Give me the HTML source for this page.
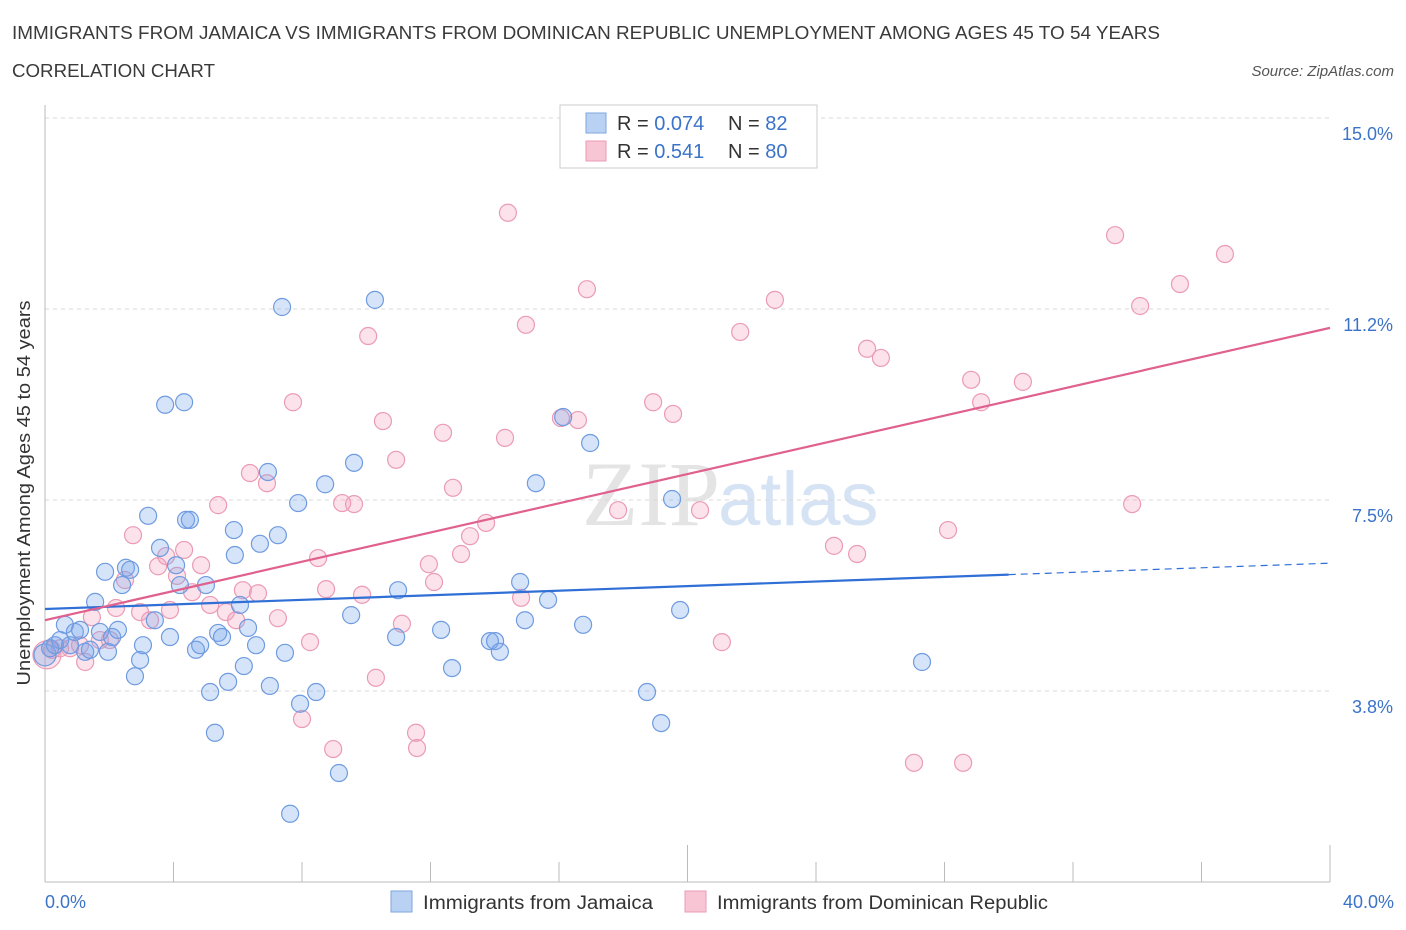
<!DOCTYPE html>
<html><head><meta charset="utf-8">
<style>
body{margin:0;background:#fff;font-family:"Liberation Sans",sans-serif;}
svg{display:block}
</style></head>
<body>
<svg id="chart" width="1406" height="930">
<text x="12" y="39" font-size="18" fill="#3a3a3a" textLength="1148" lengthAdjust="spacingAndGlyphs">IMMIGRANTS FROM JAMAICA VS IMMIGRANTS FROM DOMINICAN REPUBLIC UNEMPLOYMENT AMONG AGES 45 TO 54 YEARS</text>
<text x="12" y="77" font-size="18" fill="#3a3a3a" textLength="203" lengthAdjust="spacingAndGlyphs">CORRELATION CHART</text>
<text x="1394" y="76" font-size="15" font-style="italic" fill="#555" text-anchor="end">Source: ZipAtlas.com</text>
<text x="720" y="525" font-size="92" font-family="Liberation Serif,serif" fill="#e4e4e4" text-anchor="end">ZIP</text>
<text x="718" y="525" font-size="76" fill="#d6e3f4">atlas</text>
<g id="grid"></g>
<g id="axes"></g>
<g id="points"></g>
<g id="trends"></g>
<text x="30" y="493" font-size="18" fill="#333" text-anchor="middle" textLength="385" lengthAdjust="spacingAndGlyphs" transform="rotate(-90 30 493)">Unemployment Among Ages 45 to 54 years</text>
<text x="45" y="908" font-size="18" fill="#3b73c8">0.0%</text>
<text x="1394" y="908" font-size="18" fill="#3b73c8" text-anchor="end">40.0%</text>
<g>
<rect x="560" y="105" width="257" height="63" fill="#fff" stroke="#ccc"/>
<rect x="586" y="113" width="20" height="20" fill="#b9d1f3" stroke="#7ea6e0"/>
<rect x="586" y="141" width="20" height="20" fill="#f8c5d5" stroke="#eb9bb5"/>
<text x="617" y="130" font-size="20" fill="#333">R = <tspan fill="#3b73c8">0.074</tspan></text>
<text x="728" y="130" font-size="20" fill="#333">N = <tspan fill="#3b73c8"> 82</tspan></text>
<text x="617" y="158" font-size="20" fill="#333">R = <tspan fill="#3b73c8"> 0.541</tspan></text>
<text x="728" y="158" font-size="20" fill="#333">N = <tspan fill="#3b73c8">80</tspan></text>
</g>
<g>
<rect x="391" y="891" width="21" height="21" fill="#b9d1f3" stroke="#7ea6e0"/>
<text x="423" y="909" font-size="19" fill="#333" textLength="230" lengthAdjust="spacingAndGlyphs">Immigrants from Jamaica</text>
<rect x="685" y="891" width="21" height="21" fill="#f8c5d5" stroke="#eb9bb5"/>
<text x="717" y="909" font-size="19" fill="#333" textLength="331" lengthAdjust="spacingAndGlyphs">Immigrants from Dominican Republic</text>
</g>
</svg>
<script>
const yTicks=[3.75,7.5,11.25,15];
const yTickLabels=["3.8%","7.5%","11.2%","15.0%"];
const xTicks=[0,4,8,12,16,20,24,28,32,36,40];
const jamX=[0,0.16,0.31,0.47,0.62,0.78,0.93,1.09,1.25,1.40,1.56,1.71,1.87,1.96,2.09,2.27,2.40,2.52,2.65,2.80,2.96,3.05,3.21,3.42,3.58,3.74,3.89,4.08,4.20,4.33,4.39,4.51,4.70,4.83,5.01,5.14,5.29,5.39,5.51,5.70,5.88,5.91,6.07,6.19,6.32,6.57,6.69,6.94,7.00,7.25,7.38,7.47,7.88,7.94,7.63,8.44,8.72,9.15,9.53,9.62,10.27,10.93,10.99,12.33,12.67,13.85,14.01,14.16,14.94,15.28,14.79,15.66,16.13,16.75,16.97,18.74,19.18,19.52,19.77,27.30];
const jamY=[4.46,4.59,4.65,4.75,5.05,4.65,4.91,4.95,4.52,4.56,5.50,4.91,6.09,4.52,4.81,4.95,5.83,6.17,6.13,4.04,4.36,4.65,7.19,5.14,6.56,9.37,4.81,6.22,5.83,9.42,7.11,7.11,4.56,4.65,5.83,3.73,2.93,4.89,4.81,3.93,6.91,6.42,5.44,4.24,4.99,4.65,6.64,8.05,3.85,6.81,11.29,4.50,7.44,3.50,1.34,3.73,7.81,2.14,5.24,8.23,11.43,4.81,5.73,4.95,4.20,4.73,4.73,4.52,5.14,7.83,5.89,5.54,9.13,5.05,8.62,3.73,3.12,7.52,5.34,4.32];
const domX=[0.06,0.22,0.47,0.78,1.09,1.25,1.46,1.71,2.02,2.21,2.49,2.74,2.96,3.27,3.52,3.77,3.89,4.11,4.33,4.58,4.86,5.14,5.39,5.63,5.95,6.16,6.38,6.63,6.91,7.25,7.72,8.00,8.25,8.50,8.75,8.97,9.25,9.62,9.87,10.06,10.30,10.52,10.93,11.11,11.55,11.58,11.95,12.11,12.39,12.70,12.95,13.23,13.73,14.32,14.41,14.82,14.97,16.06,16.59,16.87,17.84,18.93,19.55,20.39,21.07,21.64,22.72,24.56,25.28,25.59,26.02,27.05,28.11,28.58,28.83,29.14,30.44,33.31,33.84,34.09,35.33,36.73];
const domY=[4.46,4.56,4.59,4.59,4.65,4.32,5.20,4.75,4.75,5.38,5.93,6.81,5.30,5.14,6.20,6.40,5.34,6.01,6.52,5.69,6.22,5.44,7.40,5.30,5.14,5.73,8.03,5.67,7.83,5.18,9.42,3.20,4.71,6.36,5.75,2.61,7.44,7.42,5.64,10.72,4.01,9.05,8.29,5.07,2.93,2.63,6.24,5.89,8.82,7.74,6.44,6.79,7.05,8.72,13.14,5.58,10.94,9.11,9.07,11.64,7.30,9.42,9.19,7.30,4.71,10.80,11.43,6.60,6.44,10.47,10.29,2.34,6.91,2.34,9.86,9.42,9.82,12.70,7.42,11.31,11.74,12.33];
const jamTrend=[5.36,0.0225]; // intercept, slope
const domTrend=[5.14,0.1435];
const jamSolidEnd=30;
const NS="http://www.w3.org/2000/svg";
const X0=45,X1=1330,Y0=882;
function sx(v){return X0+v*(X1-X0)/40;}
function sy(v){return Y0-v*50.93;}
function mk(tag,attrs,parent){const e=document.createElementNS(NS,tag);for(const k in attrs)e.setAttribute(k,attrs[k]);parent.appendChild(e);return e;}
const grid=document.getElementById('grid'),axes=document.getElementById('axes'),pts=document.getElementById('points'),tr=document.getElementById('trends');
yTicks.forEach((t,i)=>{
 const l=mk('line',{x1:X0,x2:X1,y1:sy(t),y2:sy(t),stroke:'#d8d8d8','stroke-dasharray':'4,4'},grid);
 
 
 const tx=mk('text',{x:1393,y:sy(t)+22,'font-size':18,fill:'#3b73c8','text-anchor':'end'},grid);
 tx.textContent=yTickLabels[i];
 
 
});
const yax=mk('line',{x1:X0,x2:X0,y1:105,y2:Y0,stroke:'#bbb'},axes);


const xax=mk('line',{x1:X0,x2:X1,y1:Y0,y2:Y0,stroke:'#bbb'},axes);


xTicks.forEach(t=>{
 const l=mk('line',{x1:sx(t),x2:sx(t),y1:Y0,y2:(t%20===0)?845:862,stroke:'#bbb'},axes);
 
 
});
function dot(x,y,blue,r){
 const c=mk('circle',{cx:sx(x),cy:sy(y),r:r,fill:blue?'rgba(120,165,235,0.3)':'rgba(242,160,188,0.3)',stroke:blue?'#6f9be0':'#eb9bb5','stroke-width':1.2},pts);
 
 
}
domX.forEach((x,i)=>dot(x,domY[i],false,i===0?14:8.5));
jamX.forEach((x,i)=>dot(x,jamY[i],true,i===0?11:8.5));
const jl=mk('line',{x1:sx(0),y1:sy(jamTrend[0]),x2:sx(jamSolidEnd),y2:sy(jamTrend[0]+jamTrend[1]*jamSolidEnd),stroke:'#2f6fd6','stroke-width':2.2},tr);


const jd=mk('line',{x1:sx(jamSolidEnd),y1:sy(jamTrend[0]+jamTrend[1]*jamSolidEnd),x2:sx(40),y2:sy(jamTrend[0]+jamTrend[1]*40),stroke:'#2f6fd6','stroke-width':1.2,'stroke-dasharray':'7,5'},tr);


const dl=mk('line',{x1:sx(0),y1:sy(domTrend[0]),x2:sx(40),y2:sy(domTrend[0]+domTrend[1]*40),stroke:'#e0608e','stroke-width':2.2},tr);


</script>
</body></html>
